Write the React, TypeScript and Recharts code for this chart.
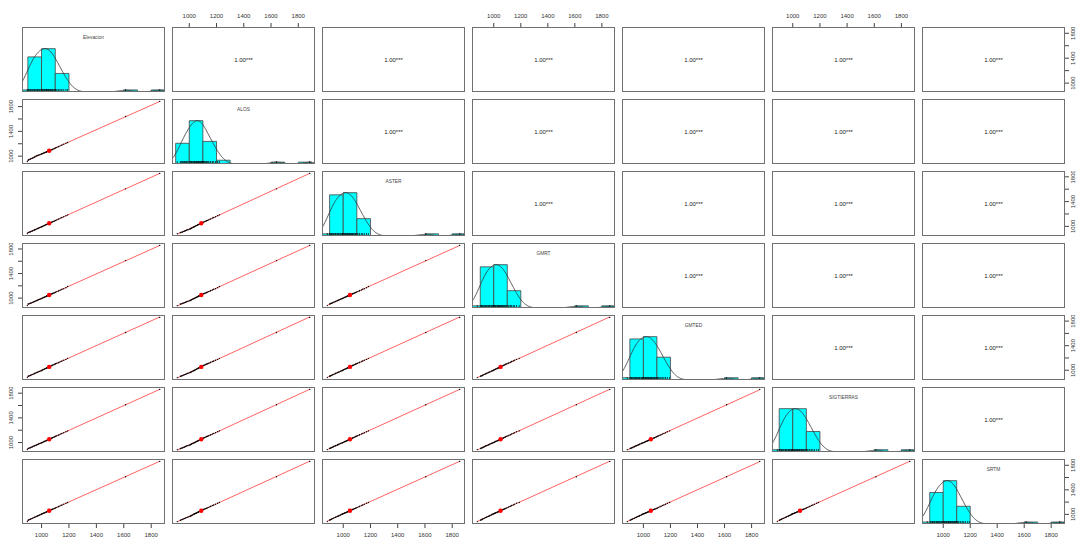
import React from 'react';
import { ComposedChart, XAxis, YAxis, Scatter, Line, ReferenceArea } from 'recharts';

// variables (one value per site, same site order in every list)
const varNames = ['Elevacion', 'ALOS', 'ASTER', 'GMRT', 'GMTED', 'SIGTIERRAS', 'SRTM'];

const elevacion = [896, 902, 907, 915, 918, 924, 931, 936, 944, 949, 953, 960, 966, 971, 977, 984, 990, 997,
  1001, 1005, 1010, 1017, 1019, 1024, 1031, 1035, 1037, 1042, 1048, 1050, 1055, 1062, 1064, 1070, 1076, 1079, 1085, 1092, 1098,
  1103, 1111, 1122, 1128, 1141, 1149, 1162, 1178, 1190, 1613, 1862];
const alos = [912, 934, 941, 948, 953, 960, 966, 972, 979, 985, 992,
  1003, 1007, 1012, 1016, 1021, 1027, 1033, 1036, 1040, 1044, 1050, 1053, 1058, 1063, 1066, 1069, 1073, 1078, 1081, 1086, 1091, 1094, 1098,
  1104, 1109, 1114, 1121, 1127, 1133, 1141, 1152, 1158, 1170, 1179, 1193, 1208, 1221, 1640, 1884];
const aster = [883, 901, 903, 909, 913, 919, 925, 929, 938, 944, 946, 955, 959, 966, 970, 978, 983, 990, 994, 998,
  1003, 1011, 1012, 1018, 1025, 1028, 1031, 1036, 1042, 1045, 1049, 1056, 1058, 1064, 1069, 1073, 1079, 1085, 1091, 1096,
  1104, 1116, 1121, 1135, 1143, 1155, 1171, 1185, 1606, 1855];
const gmrt = [878, 904, 906, 912, 915, 921, 927, 933, 940, 943, 949, 956, 962, 967, 972, 979, 985, 989, 995, 999,
  1004, 1009, 1014, 1017, 1024, 1029, 1033, 1035, 1041, 1046, 1051, 1055, 1060, 1063, 1070, 1074, 1081, 1084, 1090, 1097,
  1106, 1113, 1124, 1132, 1144, 1152, 1168, 1188, 1611, 1858];
const gmted = [881, 902, 908, 911, 917, 922, 930, 934, 941, 947, 951, 958, 963, 970, 974, 982, 987, 993, 997,
  1002, 1008, 1015, 1018, 1023, 1030, 1033, 1038, 1041, 1047, 1052, 1057, 1061, 1066, 1072, 1078, 1082, 1088, 1095,
  1101, 1107, 1114, 1123, 1131, 1142, 1152, 1164, 1177, 1194, 1615, 1860];
const sigtierras = [886, 903, 907, 914, 916, 923, 929, 935, 943, 947, 952, 957, 965, 969, 976, 982, 988, 991, 996, 999,
  1006, 1013, 1016, 1021, 1026, 1032, 1034, 1040, 1046, 1049, 1053, 1060, 1063, 1068, 1075, 1078, 1084, 1091, 1097,
  1102, 1110, 1120, 1127, 1139, 1148, 1160, 1176, 1189, 1612, 1861];
const srtm = [882, 905, 910, 917, 921, 927, 934, 939, 947, 951, 957, 963, 968, 974, 981, 987, 994,
  1001, 1005, 1009, 1014, 1021, 1023, 1028, 1034, 1039, 1041, 1045, 1051, 1054, 1059, 1065, 1068, 1074, 1080, 1083, 1089, 1094, 1099,
  1106, 1114, 1125, 1131, 1144, 1152, 1165, 1181, 1194, 1614, 1863];

const series = [elevacion, alos, aster, gmrt, gmted, sigtierras, srtm];
const axisTicks = [1000, 1200, 1400, 1600, 1800];
const yLabelTicks = [1000, 1400, 1800];

const FONT = '"Liberation Sans", Arial, Helvetica, sans-serif';
const PW = 143, PH = 65, LEFT0 = 22, TOP0 = 27, STEP_X = 150, STEP_Y = 72;

// --- small stats helpers (what pairs.panels does) ---
const mean = (a: number[]) => a.reduce((s, v) => s + v, 0) / a.length;
const sd = (a: number[]) => { const m = mean(a); return Math.sqrt(a.reduce((s, v) => s + (v - m) ** 2, 0) / (a.length - 1)); };
const quantile = (a: number[], p: number) => {
  const s = [...a].sort((x, y) => x - y); const h = (s.length - 1) * p; const lo = Math.floor(h);
  return s[lo] + (h - lo) * (s[Math.min(lo + 1, s.length - 1)] - s[lo]);
};
const usr = (a: number[]): [number, number] => {
  const lo = Math.min(...a), hi = Math.max(...a), e = 0.04 * (hi - lo);
  return [lo - e, hi + e];
};
function histBins(a: number[]) {
  const lo = Math.floor(Math.min(...a) / 100) * 100, hi = Math.ceil(Math.max(...a) / 100) * 100;
  const bins: { x0: number; x1: number; n: number }[] = [];
  for (let b = lo; b < hi; b += 100)
    bins.push({ x0: b, x1: b + 100, n: a.filter(v => (v > b || (b === lo && v >= b)) && v <= b + 100).length });
  const mx = Math.max(...bins.map(b => b.n));
  return bins.map(b => ({ x0: b.x0, x1: b.x1, h: b.n / mx }));
}
function densityCurve(a: number[]) {
  const iqr = quantile(a, 0.75) - quantile(a, 0.25);
  const bw = 1.2 * 1.06 * Math.min(sd(a), iqr / 1.34) * Math.pow(a.length, -0.2);
  const lo = Math.min(...a) - 3 * bw, hi = Math.max(...a) + 3 * bw;
  const pts: { x: number; d: number }[] = [];
  for (let i = 0; i <= 256; i++) {
    const x = lo + (hi - lo) * i / 256;
    pts.push({ x, d: a.reduce((s, v) => s + Math.exp(-0.5 * ((x - v) / bw) ** 2), 0) });
  }
  const mx = Math.max(...pts.map(p => p.d));
  return pts.map(p => ({ x: p.x, d: p.d / mx }));
}
function corLabel(a: number[], b: number[]) {
  const ma = mean(a), mb = mean(b);
  let sab = 0, saa = 0, sbb = 0;
  a.forEach((v, i) => { sab += (v - ma) * (b[i] - mb); saa += (v - ma) ** 2; sbb += (b[i] - mb) ** 2; });
  const r = sab / Math.sqrt(saa * sbb);
  const t = Math.abs(r) * Math.sqrt((a.length - 2) / Math.max(1e-12, 1 - r * r));
  const stars = t > 3.5 ? '***' : t > 2.68 ? '**' : t > 2.01 ? '*' : '';
  return r.toFixed(2) + stars;
}
function lmLine(a: number[], b: number[]) {
  const ma = mean(a), mb = mean(b);
  let sab = 0, saa = 0;
  a.forEach((v, i) => { sab += (v - ma) * (b[i] - mb); saa += (v - ma) ** 2; });
  const slope = sab / saa, icpt = mb - slope * ma;
  const lo = Math.min(...a), hi = Math.max(...a);
  return [{ x: lo, y: icpt + slope * lo }, { x: hi, y: icpt + slope * hi }];
}

const YTick = (props: any) => {
  const { x, y, payload } = props;
  if (!yLabelTicks.includes(payload.value)) return <g />;
  return (
    <text x={x} y={y} transform={`rotate(-90 ${x} ${y})`} textAnchor="middle" dominantBaseline="central"
      fontSize={6} fill="#333" fontFamily={FONT}>{payload.value}</text>
  );
};

const dotShape = (p: any) => <circle cx={p.cx} cy={p.cy} r={0.7} fill="#000" />;
const meanShape = (p: any) => <circle cx={p.cx} cy={p.cy} r={2.2} fill="#ff0000" />;
const rugShape = (p: any) => <line x1={p.cx} x2={p.cx} y1={p.cy} y2={p.cy - 3} stroke="#000" strokeWidth={0.7} />;

function Panel({ r, c }: { r: number; c: number }) {
  const px = LEFT0 + c * STEP_X, py = TOP0 + r * STEP_Y;
  const top = r === 0 && c % 2 === 1, bottom = r === 6 && c % 2 === 0;
  const left = c === 0 && r % 2 === 1, right = c === 6 && r % 2 === 0;
  const hT = top ? 27 : 0, hB = bottom ? 15 : 0, wL = left ? 22 : 0, wR = right ? 14 : 0;
  const xv = series[c], yv = series[r];
  const xd = usr(xv), yd = usr(yv);
  const isDiag = r === c, isLower = r > c;
  const hasAxis = top || bottom || left || right;

  return (
    <>
      {(isDiag || isLower || hasAxis) && (
        <div style={{ position: 'absolute', left: px - wL, top: py - hT }}>
          <ComposedChart width={PW + wL + wR} height={PH + hT + hB} margin={{ top: 0, right: 0, bottom: 0, left: 0 }}>
            <XAxis type="number" dataKey="x" domain={xd} allowDataOverflow ticks={axisTicks} interval={0}
              orientation={top ? 'top' : 'bottom'} hide={!(top || bottom)} height={top ? 27 : 15}
              axisLine={false} tickSize={4} tickMargin={5} tickLine={{ stroke: '#444' }}
              tick={{ fontSize: 6, fill: '#333', fontFamily: FONT }} />
            <YAxis type="number" dataKey="y" domain={yd} allowDataOverflow ticks={axisTicks} interval={0}
              orientation={right ? 'right' : 'left'} hide={!(left || right)} width={left ? 22 : 14}
              axisLine={false} tickSize={4} tickMargin={right ? 4 : 7} tickLine={{ stroke: '#444' }} tick={YTick} />
            {isDiag && <YAxis yAxisId="h" type="number" dataKey="y" domain={[0, 1.5]} allowDataOverflow hide />}
            {isDiag && histBins(xv).filter(b => b.h > 0).map(b => (
              <ReferenceArea key={b.x0} yAxisId="h" x1={b.x0} x2={b.x1} y1={0} y2={b.h} ifOverflow="hidden"
                fill="#00ffff" fillOpacity={1} stroke="#444" strokeWidth={0.8} />
            ))}
            {isDiag && <Line yAxisId="h" data={densityCurve(xv)} dataKey="d" type="linear" stroke="#333"
              strokeWidth={0.8} dot={false} isAnimationActive={false} />}
            {isDiag && <Scatter yAxisId="h" data={xv.map(v => ({ x: v, y: 0 }))} shape={rugShape} isAnimationActive={false} />}
            {isLower && <Line data={lmLine(xv, yv)} dataKey="y" type="linear" stroke="#ff2020" strokeWidth={0.7}
              dot={false} isAnimationActive={false} />}
            {isLower && <Scatter data={xv.map((v, i) => ({ x: v, y: yv[i] }))} shape={dotShape} isAnimationActive={false} />}
            {isLower && <Scatter data={[{ x: mean(xv), y: mean(yv) }]} shape={meanShape} isAnimationActive={false} />}
          </ComposedChart>
        </div>
      )}
      <div style={{ position: 'absolute', left: px, top: py, width: PW, height: PH, border: '1px solid #707070',
        boxSizing: 'border-box', pointerEvents: 'none' }} />
      {isDiag && (
        <div style={{ position: 'absolute', left: px, top: py + 8, width: PW, textAlign: 'center', fontSize: 4.8,
          color: '#444', fontFamily: FONT, lineHeight: '6px' }}>{varNames[r]}</div>
      )}
      {r < c && (
        <div style={{ position: 'absolute', left: px, top: py + PH / 2 - 4, width: PW, textAlign: 'center', fontSize: 6,
          color: '#222', fontFamily: FONT, lineHeight: '8px' }}>{corLabel(xv, yv)}</div>
      )}
    </>
  );
}

export default function App() {
  const cells: JSX.Element[] = [];
  for (let r = 0; r < 7; r++) for (let c = 0; c < 7; c++) cells.push(<Panel key={`${r}-${c}`} r={r} c={c} />);
  return (
    <div style={{ position: 'fixed', left: 0, top: 0, width: 1077, height: 538, overflow: 'hidden', background: '#fff' }}>
      {cells}
    </div>
  );
}
